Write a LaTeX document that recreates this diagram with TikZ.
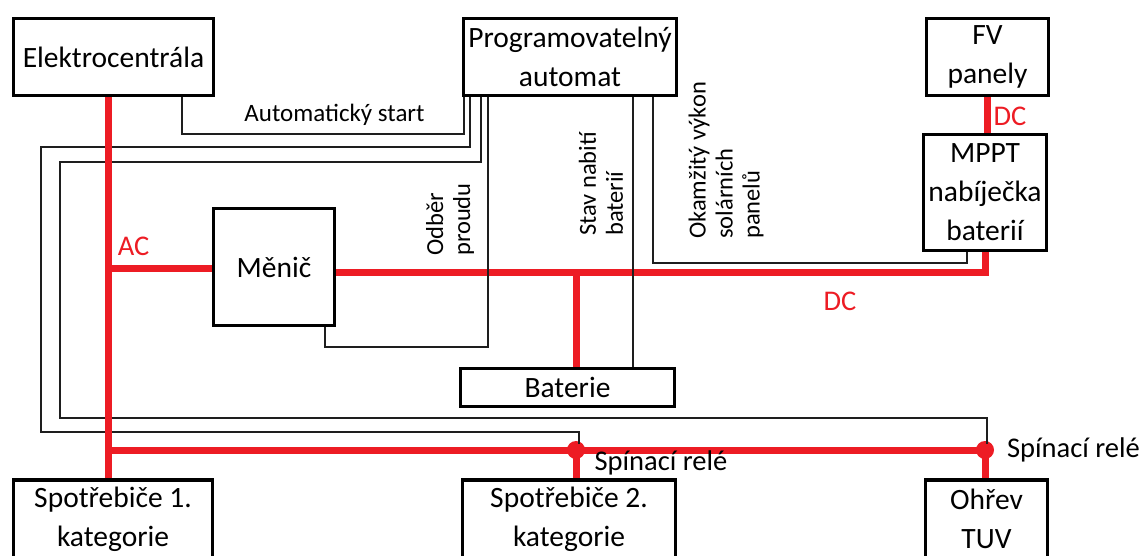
\documentclass[tikz,border=0pt]{standalone}
\usepackage{fontspec}
\setmainfont{Carlito}
\usetikzlibrary{backgrounds}
\definecolor{pwr}{RGB}{237,28,36}
\definecolor{sigc}{RGB}{30,30,30}
\begin{document}
\begin{tikzpicture}[x=1pt,y=-1pt,
  box/.style={draw=black, line width=3.5pt, inner sep=0pt, align=center,
    font=\fontsize{29.5}{39}\selectfont, text=black},
  pow/.style={draw=pwr, line width=7pt},
  sig/.style={draw=sigc, line width=1.5pt},
  lab/.style={inner sep=0pt, anchor=base, font=\fontsize{25}{27}\selectfont},
  labb/.style={inner sep=0pt, anchor=base, font=\fontsize{28.5}{30}\selectfont},
  rlab/.style={inner sep=0pt, anchor=base, text=pwr, font=\fontsize{28.5}{30}\selectfont},
  vlab/.style={inner sep=0pt, rotate=90, anchor=west, align=left,
    font=\fontsize{24.5}{27}\selectfont},
]
\useasboundingbox (0,0) rectangle (1143,556);
\clip (0,0) rectangle (1143,556);

% boxes
\node[box, minimum width=200pt, minimum height=77pt] (elek) at (113.5,57) {Elektrocentrála};
\node[box, minimum width=213pt, minimum height=77pt] (prog) at (570,57) {Programovatelný\\automat};
\node[box, minimum width=122pt, minimum height=77pt] (fv) at (987.5,57) {FV\\panely};
\node[box, minimum width=123pt, minimum height=116pt] (mppt) at (985,192.5) {MPPT\\nabíječka\\baterií};
\node[box, minimum width=121pt, minimum height=117pt] (menic) at (274,267) {Měnič};
\node[box, minimum width=214pt, minimum height=38pt] (bat) at (567.5,387.5) {Baterie};
\node[box, minimum width=199pt, minimum height=78pt] (sp1) at (113,519) {Spotřebiče 1.\\kategorie};
\node[box, minimum width=213pt, minimum height=78pt] (sp2) at (569,519) {Spotřebiče 2.\\kategorie};
\node[box, minimum width=122pt, minimum height=78pt] (ohr) at (986.5,519) {Ohřev\\TUV};

% junction coordinates
\coordinate (acx) at (108,268);
\coordinate (dcr) at (985,272);
\coordinate (bat1) at (576,272);
\coordinate (fvx) at (987,0);
\coordinate (r1) at (576,450);
\coordinate (r2) at (985,450);

\begin{pgfonlayer}{background}
  % power lines (DC side and bottom bus)
  \draw[pow] (acx) -- (menic.west |- acx);
  \draw[pow] (menic.east |- dcr) -- (dcr) -- (mppt.south -| dcr);
  \draw[pow] (bat1) -- (bat.north -| bat1);
  \draw[pow] (fv.south -| fvx) -- (mppt.north -| fvx);
  \draw[pow] (acx |- r1) -- (r2);
  \draw[pow] (r1) -- (sp2.north -| r1);
  \draw[pow] (r2) -- (ohr.north -| r2);
  \fill[pwr] (r1) circle[radius=9pt];
  \fill[pwr] (r2) circle[radius=9pt];
  % signal lines
  \draw[sig] (elek.south -| 182,0) |- (464,134) -- (prog.south -| 464,0);
  \draw[sig] (prog.south -| 470,0) |- (41,147) |- (579,432) -- (579,444);
  \draw[sig] (prog.south -| 481,0) |- (60,162) |- (987,418) -- (987,444);
  \draw[sig] (prog.south -| 488,0) |- (325,347) -- (menic.south -| 325,0);
  \draw[sig] (prog.south -| 633,0) -- (bat.north -| 633,0);
  \draw[sig] (prog.south -| 653,0) |- (967,263) -- (mppt.south -| 967,0);
  % AC trunk
  \draw[pow] (elek.south -| acx) -- (sp1.north -| acx);
\end{pgfonlayer}

% labels
\node[lab] (tauto) at (334.5,122) {Automatický start};
\node[rlab] (tac) at (133.5,255) {AC};
\node[rlab] (tdc1) at (1010,126) {DC};
\node[rlab] (tdc2) at (840,310) {DC};
\node[labb] (trel1) at (661,470) {Spínací relé};
\node[labb] (trel2) at (1073.5,457) {Spínací relé};
\node[vlab] (todb) at (450,256) {Odběr\\proudu};
\node[vlab] (tstav) at (601,236) {Stav nabití\\baterií};
\node[vlab] (tokam) at (726,239) {Okamžitý výkon\\solárních\\panelů};
\end{tikzpicture}
\end{document}
